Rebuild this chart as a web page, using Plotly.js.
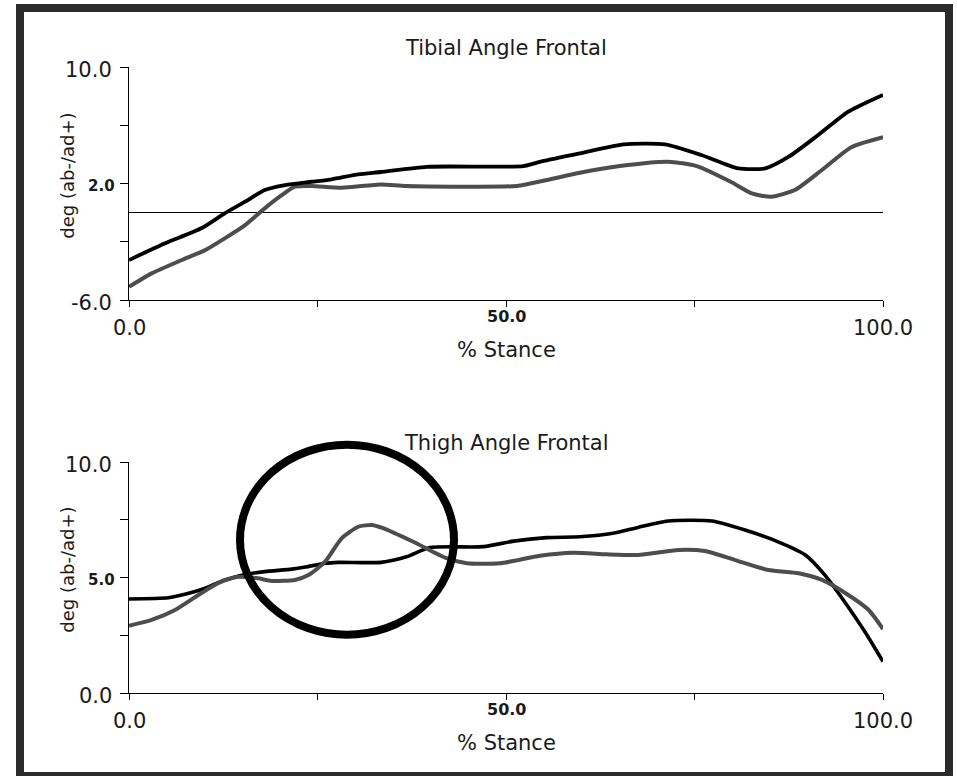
<!DOCTYPE html>
<html>
<head>
<meta charset="utf-8">
<script src="https://cdn.plot.ly/plotly-3.0.1.min.js"></script>
<style>
  html, body { margin: 0; padding: 0; background: #ffffff; }
  #chart { width: 957px; height: 776px; }
</style>
</head>
<body>
<div id="chart"></div>
<script>
// Frontal-plane segment angles over the stance phase (two trials each)

// Tibial Angle Frontal
const tibialBlackX = [0, 4.8, 9.6, 12.7, 15.4, 18.0, 20.7, 24.2, 26.9, 30.4, 33.4, 39.5, 52.3, 54.5, 59.8, 65.6, 71.1, 75.9, 80.8, 84.4, 87.5, 91.4, 95.4, 100];
const tibialBlackY = [-3.25, -2.1, -1.07, -0.04, 0.76, 1.56, 1.9, 2.13, 2.3, 2.64, 2.8, 3.16, 3.21, 3.5, 4.08, 4.7, 4.7, 3.97, 3.05, 3.05, 3.85, 5.34, 6.95, 8.1];
const tibialGrayX = [0, 3.0, 7.0, 10.1, 12.7, 15.4, 18.0, 20.3, 22.0, 24.2, 28.2, 33.4, 36.8, 51.4, 55.4, 59.8, 65.1, 71.5, 75.3, 79.8, 82.6, 85.2, 88.3, 91.9, 95.8, 100];
const tibialGrayY = [-5.09, -4.17, -3.25, -2.57, -1.76, -0.85, 0.3, 1.22, 1.79, 1.84, 1.72, 1.95, 1.84, 1.84, 2.25, 2.75, 3.21, 3.51, 3.21, 2.13, 1.33, 1.1, 1.56, 2.94, 4.5, 5.19];

// Thigh Angle Frontal
const thighBlackX = [0, 5.2, 7.4, 10.1, 12.7, 15.4, 18.0, 21.6, 23.4, 26.0, 27.8, 33.4, 36.8, 39.9, 47.0, 51.0, 55.4, 59.8, 64.2, 67.5, 71.5, 77.3, 81.7, 86.1, 89.7, 92.3, 94.9, 97.6, 100];
const thighBlackY = [4.08, 4.13, 4.28, 4.54, 4.9, 5.14, 5.26, 5.37, 5.46, 5.62, 5.66, 5.66, 5.9, 6.3, 6.34, 6.58, 6.73, 6.77, 6.92, 7.17, 7.45, 7.45, 7.06, 6.55, 5.98, 5.11, 3.96, 2.66, 1.37];
const thighGrayX = [0, 3.0, 6.1, 9.2, 11.8, 14.5, 17.1, 18.9, 22.0, 23.8, 26.0, 28.2, 30.4, 32.2, 33.6, 37.7, 42.1, 44.8, 49.2, 54.5, 58.9, 63.3, 67.5, 72.9, 76.4, 80.4, 84.8, 88.8, 91.9, 95.4, 98.1, 100];
const thighGrayY = [2.92, 3.17, 3.6, 4.25, 4.76, 5.04, 4.97, 4.86, 4.9, 5.11, 5.69, 6.7, 7.2, 7.28, 7.15, 6.55, 5.84, 5.62, 5.62, 5.95, 6.08, 6.01, 5.98, 6.2, 6.15, 5.76, 5.33, 5.19, 4.9, 4.25, 3.6, 2.78];

// Axis ticks and labels
const stanceTicks = [0, 25, 50, 75, 100];
const stanceLabelVals = [0, 50, 100];
const stanceLabelText = ['0.0', '50.0', '100.0'];
const tibialTicks = [-6, -2, 2, 6, 10];
const tibialLabelVals = [10, 2, -6];
const tibialLabelText = ['10.0', '2.0', '-6.0'];
const thighTicks = [0, 2.5, 5, 7.5, 10];
const thighLabelVals = [10, 5, 0];
const thighLabelText = ['10.0', '5.0', '0.0'];

const titles = ['Tibial Angle Frontal', 'Thigh Angle Frontal'];
const xTitle = '% Stance';
const yTitle = 'deg (ab-/ad+)';

const W = 957, H = 776;
const FONT = 'DejaVu Sans, Liberation Sans, Arial, sans-serif';
const INK = '#1a1a1a';

// plot boxes in pixels
const plotLeft = 129, plotRight = 883;
const panels = [
  { top: 67.3, bottom: 300, range: [-6, 10] },
  { top: 462, bottom: 693.3, range: [0, 10] }
];

function lineTrace(x, y, color, width, xa, ya) {
  return {
    x: x, y: y, type: 'scatter', mode: 'lines',
    xaxis: xa, yaxis: ya,
    line: { color: color, width: width, shape: 'spline', smoothing: 0.6 },
    hoverinfo: 'skip', showlegend: false
  };
}

const data = [
  lineTrace(tibialGrayX, tibialGrayY, '#4d4d4d', 4, 'x', 'y'),
  lineTrace(tibialBlackX, tibialBlackY, '#000000', 3.8, 'x', 'y'),
  lineTrace(thighBlackX, thighBlackY, '#000000', 3.6, 'x2', 'y2'),
  lineTrace(thighGrayX, thighGrayY, '#4d4d4d', 4, 'x2', 'y2')
];

function xAxis(anchor) {
  return {
    domain: [plotLeft / W, plotRight / W], range: [0, 100], anchor: anchor,
    tickmode: 'array', tickvals: stanceTicks, showticklabels: false,
    ticks: 'outside', ticklen: 6, tickwidth: 1, tickcolor: '#000',
    showline: true, linecolor: '#000', linewidth: 1,
    showgrid: false, zeroline: false, fixedrange: true
  };
}
function yAxis(anchor, p, ticks, zero) {
  return {
    domain: [1 - p.bottom / H, 1 - p.top / H], range: p.range, anchor: anchor,
    tickmode: 'array', tickvals: ticks, showticklabels: false,
    ticks: 'outside', ticklen: 8, tickwidth: 1, tickcolor: '#000',
    showline: true, linecolor: '#000', linewidth: 1,
    showgrid: false, zeroline: zero, zerolinecolor: '#000', zerolinewidth: 1,
    fixedrange: true
  };
}

const annotations = [];
function isEnd(v, list) { return v === Math.min.apply(null, list) || v === Math.max.apply(null, list); }

function addYLabels(yref, vals, texts) {
  vals.forEach(function (v, i) {
    const big = isEnd(v, vals);
    annotations.push({
      xref: 'paper', x: plotLeft / W, xanchor: 'right', xshift: big ? -15 : -12,
      yref: yref, y: v, yanchor: 'middle', yshift: big ? -3 : -2,
      text: texts[i], showarrow: false,
      font: { family: FONT, size: big ? 21 : 15, color: INK, weight: big ? 'normal' : 'bold' }
    });
  });
}
function addXLabels(xref, yref, vals, texts) {
  vals.forEach(function (v, i) {
    const big = isEnd(v, vals);
    annotations.push({
      xref: xref, x: v, xanchor: 'center',
      yref: yref, y: 0, yanchor: 'top', yshift: big ? -14 : -5,
      text: texts[i], showarrow: false,
      font: { family: FONT, size: big ? 21 : 16, color: INK, weight: big ? 'normal' : 'bold' }
    });
  });
}
function addTitles(xref, yref, title) {
  annotations.push({
    xref: xref, x: 50, xanchor: 'center', yref: yref, y: 1, yanchor: 'bottom', yshift: 5,
    text: title, showarrow: false, font: { family: FONT, size: 21, color: INK }
  });
  annotations.push({
    xref: xref, x: 50, xanchor: 'center', yref: yref, y: 0, yanchor: 'top', yshift: -36,
    text: xTitle, showarrow: false, font: { family: FONT, size: 21, color: INK }
  });
  annotations.push({
    xref: 'paper', x: 68 / W, xanchor: 'center', yref: yref, y: 0.5, yanchor: 'middle', yshift: 8,
    text: yTitle, textangle: -90, showarrow: false, font: { family: FONT, size: 18, color: INK }
  });
}

addYLabels('y', tibialLabelVals, tibialLabelText);
addXLabels('x', 'y domain', stanceLabelVals, stanceLabelText);
addTitles('x', 'y domain', titles[0]);
addYLabels('y2', thighLabelVals, thighLabelText);
addXLabels('x2', 'y2 domain', stanceLabelVals, stanceLabelText);
addTitles('x2', 'y2 domain', titles[1]);

// highlight ring around the early-stance bump, plus the outer frame
const ring = { left: 240, right: 454, top: 444.7, bottom: 634.7 };
const frame = { left: 20, right: 949, top: 8, bottom: 776 };

const shapes = [
  {
    type: 'circle', xref: 'paper', yref: 'paper', layer: 'above',
    x0: ring.left / W, x1: ring.right / W, y0: 1 - ring.bottom / H, y1: 1 - ring.top / H,
    line: { color: '#000', width: 8 }, fillcolor: 'rgba(0,0,0,0)'
  },
  {
    type: 'rect', xref: 'paper', yref: 'paper', layer: 'above',
    x0: frame.left / W, x1: frame.right / W, y0: 1 - frame.bottom / H, y1: 1 - frame.top / H,
    line: { color: '#2b2b2b', width: 8 }, fillcolor: 'rgba(0,0,0,0)'
  }
];

const layout = {
  width: W, height: H,
  margin: { l: 0, r: 0, t: 0, b: 0 },
  paper_bgcolor: '#ffffff', plot_bgcolor: '#ffffff',
  showlegend: false,
  xaxis: xAxis('y'),
  yaxis: yAxis('x', panels[0], tibialTicks, true),
  xaxis2: xAxis('y2'),
  yaxis2: yAxis('x2', panels[1], thighTicks, false),
  annotations: annotations,
  shapes: shapes
};

Plotly.newPlot('chart', data, layout, { displayModeBar: false, staticPlot: true });
</script>
</body>
</html>
